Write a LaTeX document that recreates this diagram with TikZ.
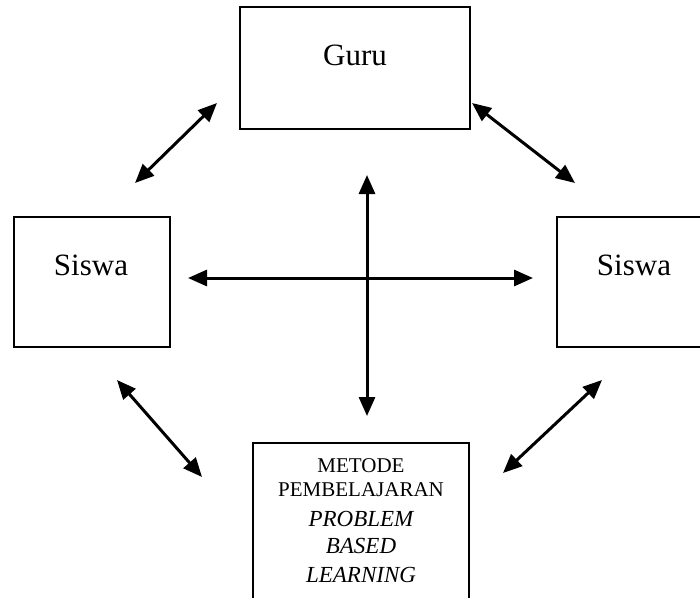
\documentclass[tikz,border=0pt]{standalone}
\usepackage{fontspec}
\setmainfont{Liberation Serif}
\usetikzlibrary{arrows.meta}
\begin{document}
\begin{tikzpicture}[x=1pt,y=-1pt,
  box/.style={draw=black,line width=1.6pt,rectangle,inner sep=0pt,fill=none},
  big/.style={font=\fontsize{31}{36}\selectfont,anchor=base,inner sep=0pt},
  small/.style={font=\fontsize{21}{24}\selectfont,anchor=base,inner sep=0pt},
  smallit/.style={font=\fontsize{23}{27}\selectfont\itshape,anchor=base,inner sep=0pt},
  link/.style={line width=3pt,{Triangle[length=19pt,width=16pt]}-{Triangle[length=19pt,width=16pt]}}]
\path[use as bounding box] (0,0) rectangle (700,597);
\clip (0,0) rectangle (700,597);
\fill[white] (0,0) rectangle (700,597);
% boxes
\node[box,minimum width=230pt,minimum height=122pt] (guru) at (355,68) {};
\node[box,minimum width=156pt,minimum height=130pt] (sl) at (92,282) {};
\node[box,minimum width=156pt,minimum height=130pt] (sr) at (635,282) {};
\node[box,minimum width=216pt,minimum height=180pt] (pbl) at (361,533) {};
% texts
\node[big] (tguru) at (355,65) {Guru};
\node[big] (tsl) at (91,275) {Siswa};
\node[big] (tsr) at (634,275) {Siswa};
\node[small] (m1) at (361,472) {METODE};
\node[small] (m2) at (361,496) {PEMBELAJARAN};
\node[smallit] (m3) at (361,526) {PROBLEM};
\node[smallit] (m4) at (361,553) {BASED};
\node[smallit] (m5) at (361,582) {LEARNING};
% arrow ends
\coordinate (gl1) at (217,103);
\coordinate (gl2) at (135,183);
\coordinate (gr1) at (472,103);
\coordinate (gr2) at (575,183);
\coordinate (bl1) at (117,380);
\coordinate (bl2) at (202,477);
\coordinate (br1) at (602,380);
\coordinate (br2) at (503,473);
\coordinate (h1) at (188,278);
\coordinate (h2) at (533,278);
\coordinate (v1) at (367,175);
\coordinate (v2) at (367,416);
% arrows
\draw[link] (gl1) -- (gl2);
\draw[link] (gr1) -- (gr2);
\draw[link] (bl1) -- (bl2);
\draw[link] (br1) -- (br2);
\draw[link] (h1) -- (h2);
\draw[link] (v1) -- (v2);
\end{tikzpicture}
\end{document}
